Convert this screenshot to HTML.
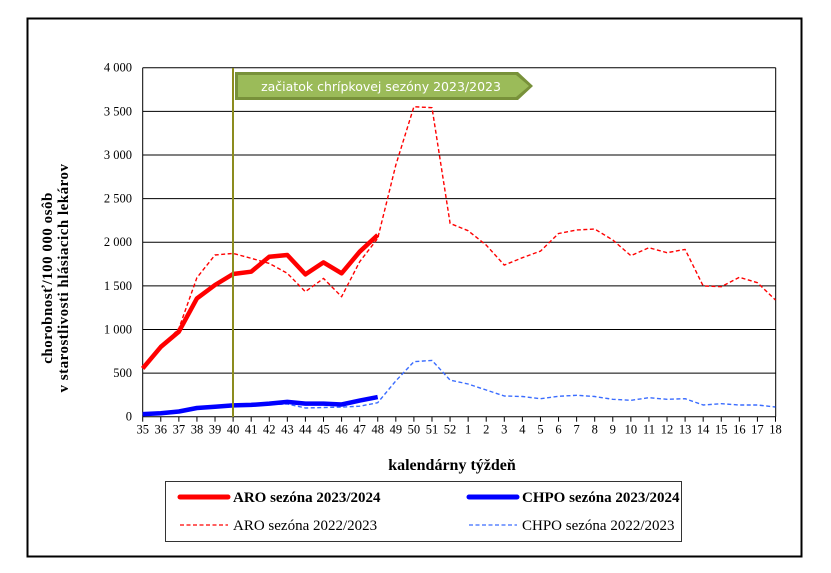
<!DOCTYPE html>
<html><head><meta charset="utf-8"><style>
html,body{margin:0;padding:0;background:#fff;}
svg{display:block;font-family:"Liberation Serif",serif;}
</style></head><body>
<svg id="c" width="831" height="573" viewBox="0 0 831 573" xmlns="http://www.w3.org/2000/svg">
<rect x="27.5" y="18.5" width="774" height="538" fill="#fff" stroke="#000" stroke-width="2"/>
<g id="grid"></g>
<g id="series"></g>
<line x1="233" y1="68" x2="233" y2="417" stroke="#8c8c1e" stroke-width="2"/>
<polygon points="235,72 518,72 533,86 518,100 235,100" fill="#78913a"/>
<polygon points="238,75 516,75 529,86 516,97 238,97" fill="#9bbb59"/>
<text x="381" y="91" font-family="DejaVu Sans,sans-serif" font-size="12.5" fill="#fff" text-anchor="middle">začiatok chrípkovej sezóny 2023/2023</text>
<text x="452" y="470" font-size="16" font-weight="bold" text-anchor="middle">kalendárny týždeň</text>
<g transform="translate(52,278) rotate(-90)"><text x="0" y="0" font-size="15" font-weight="bold" text-anchor="middle" letter-spacing="0.5">chorobnosť/100 000 osôb</text>
<text x="0" y="16" font-size="15" font-weight="bold" text-anchor="middle" letter-spacing="0.5">v starostlivosti hlásiacich lekárov</text></g>
<rect x="165.5" y="481.5" width="516" height="60" fill="#fff" stroke="#333" stroke-width="1"/>
<line x1="180" y1="497" x2="228" y2="497" stroke="#f00" stroke-width="5" stroke-linecap="round"/>
<text x="233" y="502" font-size="15" font-weight="bold">ARO sezóna 2023/2024</text>
<line x1="469" y1="497" x2="517" y2="497" stroke="#00f" stroke-width="5" stroke-linecap="round"/>
<text x="522" y="502" font-size="15" font-weight="bold">CHPO sezóna 2023/2024</text>
<line x1="180" y1="525" x2="228" y2="525" stroke="#f00" stroke-width="1.3" stroke-dasharray="4,2.5"/>
<text x="233" y="530" font-size="15">ARO sezóna 2022/2023</text>
<line x1="469" y1="525" x2="517" y2="525" stroke="#3a6cff" stroke-width="1.3" stroke-dasharray="4,2.5"/>
<text x="522" y="530" font-size="15">CHPO sezóna 2022/2023</text>
</svg>
<script>
var L=142.7,S=18.08,T=67.7,B=416.7;
function X(i){return L+i*S}
function Y(v){return B-v*(B-T)/4000}
var ns="http://www.w3.org/2000/svg",g=document.getElementById("grid"),s=document.getElementById("series");
function el(p,t,a,txt){var e=document.createElementNS(ns,t);for(var k in a)e.setAttribute(k,a[k]);if(txt!=null)e.textContent=txt;p.appendChild(e);return e}
for(var v=0;v<=4000;v+=500){var y=Y(v);el(g,"line",{x1:L,x2:775.7,y1:y,y2:y,stroke:"#000","stroke-width":1});
el(g,"text",{x:132,y:y+4,"font-size":12.5,"text-anchor":"end"},v>=1000?Math.floor(v/1000)+" "+String(v%1000).padStart(3,"0"):String(v));}
el(g,"line",{x1:L,x2:L,y1:T,y2:B,stroke:"#000"});
el(g,"line",{x1:775.7,x2:775.7,y1:T,y2:B,stroke:"#000"});
var labs=[];for(var w=35;w<=52;w++)labs.push(w);for(w=1;w<=18;w++)labs.push(w);
labs.forEach(function(l,i){var x=X(i);el(g,"line",{x1:x,x2:x,y1:B,y2:B+5,stroke:"#000"});el(g,"text",{x:x,y:B+17,"font-size":12.5,"text-anchor":"middle"},String(l));});
function line(d,col,w,dash){var p=d.map(function(v,i){return X(i).toFixed(1)+","+Y(v).toFixed(1)}).join(" ");var a={points:p,fill:"none",stroke:col,"stroke-width":w,"stroke-linejoin":"round"};if(dash)a["stroke-dasharray"]=dash;el(s,"polyline",a);}
var aro22=[554,790,1012,1593,1853,1872,1815,1757,1643,1433,1585,1375,1776,2044,2884,3553,3541,2216,2132,1967,1738,1822,1898,2100,2140,2151,2025,1845,1937,1880,1918,1498,1490,1598,1536,1337];
var ch22=[30,45,60,100,115,120,125,140,145,100,105,110,120,160,410,630,645,420,375,306,237,232,206,234,245,232,199,188,218,199,206,134,149,134,134,111];
var aro23=[554,800,975,1356,1509,1635,1662,1834,1853,1631,1769,1643,1891,2082];
var ch23=[30,40,60,100,115,130,135,150,170,150,150,140,185,225];
line(aro22,"#f00",1.4,"4,2.5");
line(ch22,"#3a6cff",1.4,"4,2.5");
line(aro23,"#f00",4.5);
line(ch23,"#00f",4.5);
</script>
</body></html>
